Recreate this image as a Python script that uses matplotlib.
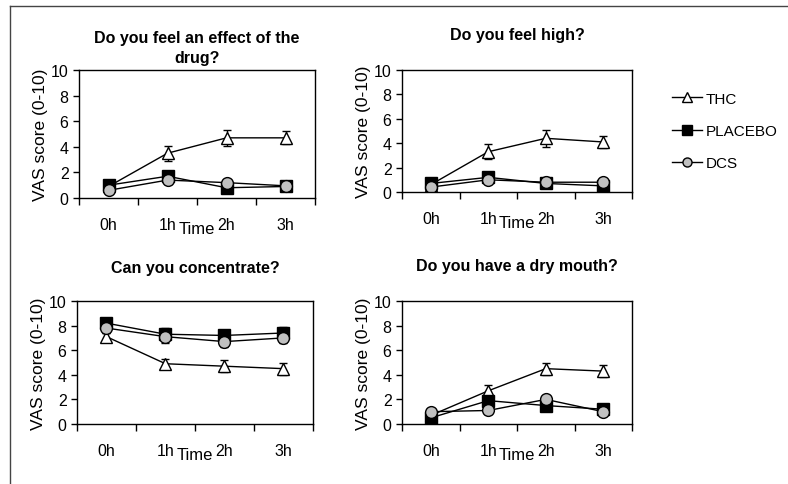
import matplotlib
matplotlib.use("Agg")
import matplotlib.pyplot as plt
from matplotlib.lines import Line2D
import numpy as np

plt.rcParams['font.family'] = ['Liberation Sans', 'DejaVu Sans']

times = ["0h", "1h", "2h", "3h"]
groups = ["THC", "PLACEBO", "DCS"]

titles = ["Do you feel an effect of the\ndrug?",
          "Do you feel high?",
          "Can you concentrate?",
          "Do you have a dry mouth?"]

# mean VAS scores, one list per group, per question
effect_thc = [0.9, 3.5, 4.7, 4.7]
effect_placebo = [1.0, 1.7, 0.8, 0.9]
effect_dcs = [0.6, 1.4, 1.2, 0.95]
effect_thc_err = [0.2, 0.6, 0.6, 0.5]
effect_placebo_err = [0.2, 0.3, 0.2, 0.1]
effect_dcs_err = [0.1, 0.3, 0.2, 0.1]

high_thc = [0.6, 3.3, 4.4, 4.1]
high_placebo = [0.7, 1.2, 0.7, 0.5]
high_dcs = [0.4, 1.0, 0.8, 0.8]
high_thc_err = [0.2, 0.6, 0.7, 0.5]
high_placebo_err = [0.2, 0.3, 0.2, 0.2]
high_dcs_err = [0.1, 0.2, 0.2, 0.2]

conc_thc = [7.1, 4.9, 4.7, 4.5]
conc_placebo = [8.2, 7.3, 7.2, 7.4]
conc_dcs = [7.8, 7.1, 6.7, 7.0]
conc_thc_err = [0.3, 0.4, 0.5, 0.5]
conc_placebo_err = [0.3, 0.5, 0.4, 0.5]
conc_dcs_err = [0.4, 0.5, 0.4, 0.4]

mouth_thc = [0.7, 2.7, 4.5, 4.3]
mouth_placebo = [0.5, 1.9, 1.5, 1.2]
mouth_dcs = [1.0, 1.1, 2.0, 1.0]
mouth_thc_err = [0.2, 0.5, 0.5, 0.5]
mouth_placebo_err = [0.2, 0.4, 0.4, 0.3]
mouth_dcs_err = [0.2, 0.3, 0.3, 0.2]

panels = [
    (effect_thc, effect_placebo, effect_dcs, effect_thc_err, effect_placebo_err, effect_dcs_err),
    (high_thc, high_placebo, high_dcs, high_thc_err, high_placebo_err, high_dcs_err),
    (conc_thc, conc_placebo, conc_dcs, conc_thc_err, conc_placebo_err, conc_dcs_err),
    (mouth_thc, mouth_placebo, mouth_dcs, mouth_thc_err, mouth_placebo_err, mouth_dcs_err),
]

styles = [dict(marker="^", mfc="white", mec="black"),
          dict(marker="s", mfc="black", mec="black"),
          dict(marker="o", mfc="#c0c0c0", mec="black")]

fig = plt.figure(figsize=(7.88, 4.85), dpi=100)

# axes rectangles [left, bottom, width, height]
rects = [[0.1003, 0.5897, 0.2995, 0.2639],
         [0.5102, 0.6021, 0.2919, 0.2515],
         [0.0977, 0.1237, 0.2995, 0.2536],
         [0.5102, 0.1237, 0.2919, 0.2536]]
title_pads = [6, 22, 21, 22]

x = np.arange(len(times))
for i, (rect, data) in enumerate(zip(rects, panels)):
    ax = fig.add_axes(rect)
    means, errs = data[:3], data[3:]
    for j in range(3):
        ax.errorbar(x, means[j], yerr=errs[j], color="black", lw=1,
                    elinewidth=1, capsize=3, capthick=1, ms=8.5,
                    mew=1, **styles[j])
    ax.set_xlim(-0.5, 3.5)
    ax.set_ylim(0, 10)
    ax.set_yticks(range(0, 11, 2))
    ax.set_xticks(np.arange(-0.5, 4, 1))
    ax.set_xticklabels([])
    ax.set_xticks(x, minor=True)
    ax.set_xticklabels(times, minor=True)
    ax.tick_params(axis="x", which="major", direction="out", length=5, width=1)
    ax.tick_params(axis="x", which="minor", length=0, pad=14, labelsize=11.5)
    ax.tick_params(axis="y", direction="out", length=4, width=1, labelsize=11.5)
    for s in ax.spines.values():
        s.set_linewidth(1)
    ax.set_ylabel("VAS score (0-10)", fontsize=12.5, labelpad=2)
    ax.set_xlabel("Time", fontsize=12, labelpad=-8)
    ax.set_title(titles[i], fontsize=11.5, fontweight="bold", pad=title_pads[i],
                 linespacing=1.4)

handles = [Line2D([], [], color="black", lw=1, ms=6.5, mew=1, **st) for st in styles]
fig.legend(handles, groups, loc="center left", bbox_to_anchor=(0.835, 0.728),
           frameon=False, fontsize=11, handlelength=2.0, labelspacing=1.2,
           handletextpad=0.2)

# frame lines on top and left
fig.add_artist(Line2D([10 / 788, 1], [1 - 7 / 485, 1 - 7 / 485], color="#444444", lw=1))
fig.add_artist(Line2D([10 / 788, 10 / 788], [0, 1 - 7 / 485], color="#444444", lw=1))

fig.savefig("out.png", dpi=100)
